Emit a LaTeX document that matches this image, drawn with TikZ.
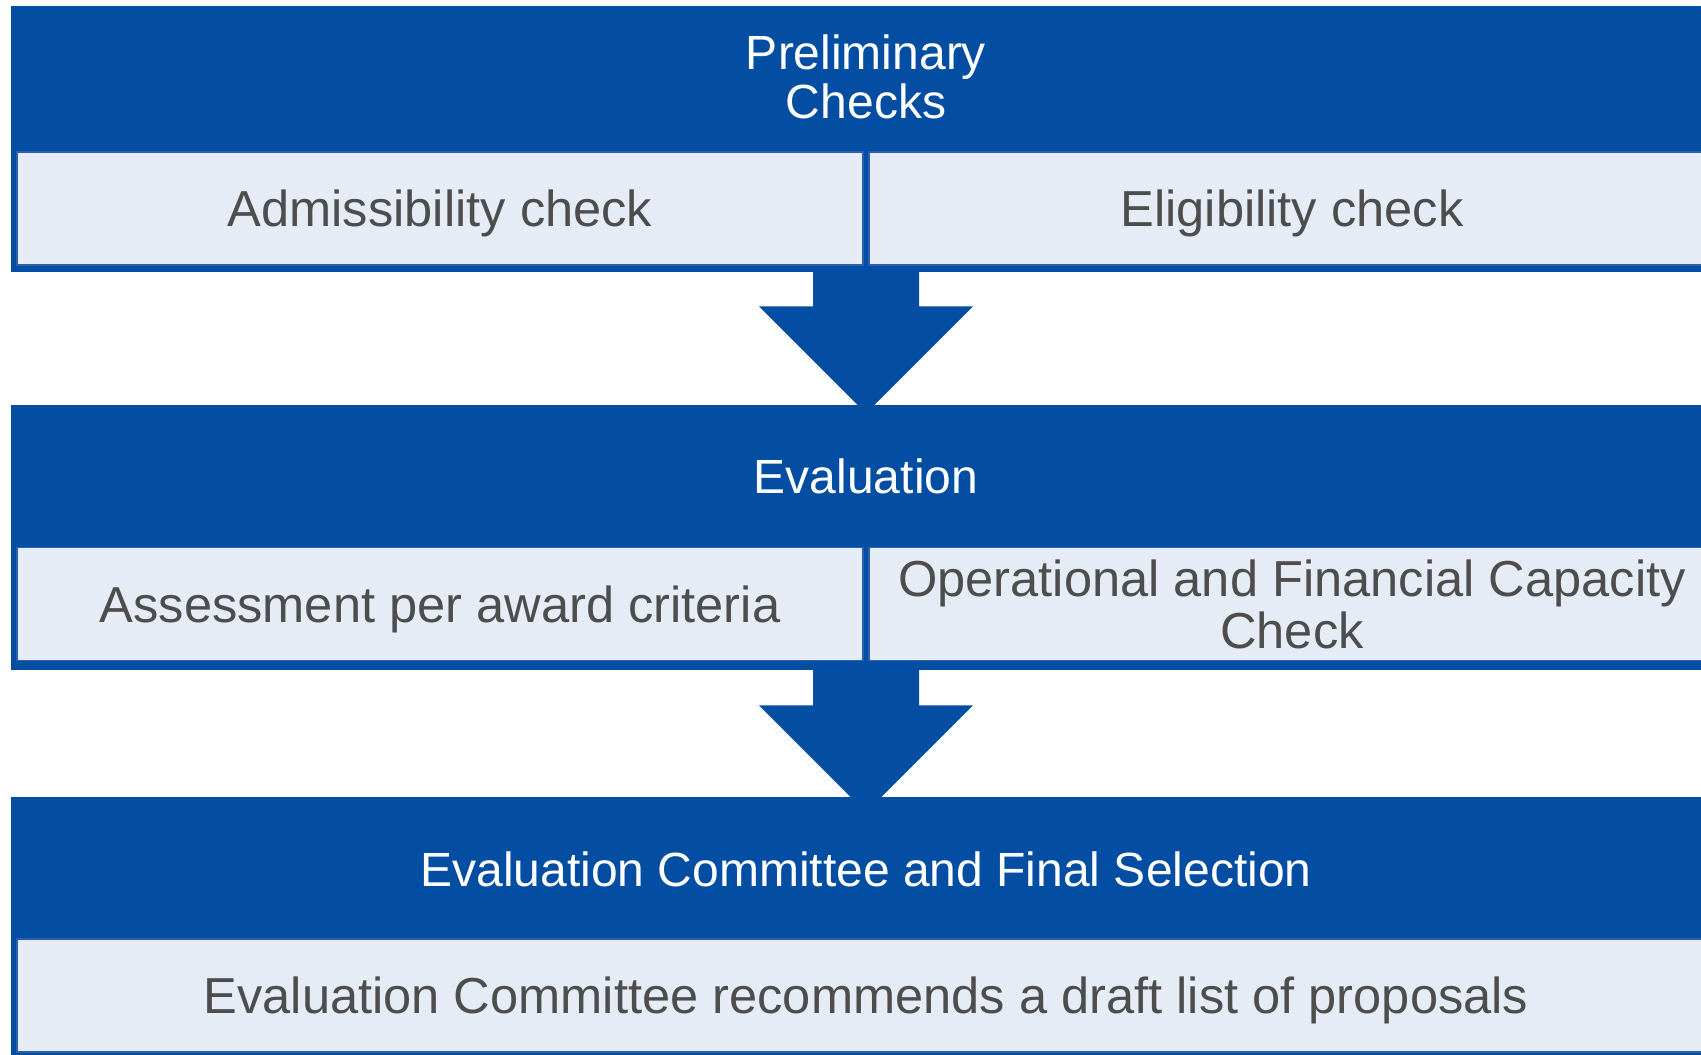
\documentclass[tikz,border=0pt]{standalone}
\usepackage{fontspec}
\setmainfont{Liberation Sans}
\definecolor{ecblue}{HTML}{034EA2}
\definecolor{cellfill}{HTML}{E6ECF5}
\definecolor{cellline}{HTML}{2B60AC}
\definecolor{txtgray}{HTML}{4D4D4D}
\begin{document}
\begin{tikzpicture}[x=0.5pt,y=-0.5pt,
  bandbox/.style={fill=ecblue, draw=none, inner sep=0, minimum width=855pt},
  titletext/.style={text=white, font=\fontsize{24}{24.5}\selectfont, align=center, inner sep=0},
  cell/.style={fill=cellfill, draw=cellline, line width=0.6pt, text=txtgray,
    font=\fontsize{25.3}{26}\selectfont, align=center, inner sep=0,
    minimum width=423pt, minimum height=56.5pt},
  oneline/.style={text depth=0pt},
  blockarrow/.style={fill=ecblue}]
\useasboundingbox (0,0) rectangle (1701,1054);
\clip (0,0) rectangle (1701,1054);
% bands
\node[bandbox, minimum height=133pt] (b1) at (866,139) {};
\node[bandbox, minimum height=132.5pt] (b2) at (866,537.5) {};
\node[bandbox, minimum height=131.5pt] (b3) at (866,928.5) {};
% block arrows (tips run into the next band)
\fill[blockarrow] (b1.south) ++(-53,-1) -- ++(0,35) -- ++(-54,0) -- ++(107,107) -- ++(107,-107) -- ++(-54,0) -- ++(0,-35) -- cycle;
\fill[blockarrow] (b2.south) ++(-53,-1) -- ++(0,36) -- ++(-54,0) -- ++(107,107) -- ++(107,-107) -- ++(-54,0) -- ++(0,-36) -- cycle;
% titles
\node[titletext] (t1) at (866,77) {Preliminary\\Checks};
\node[titletext] (t2) at (866,476) {Evaluation};
\node[titletext] (t3) at (866,869) {Evaluation Committee and Final Selection};
% cells
\node[cell, oneline] (c1l) at (440,208.5) {Admissibility check};
\node[cell, oneline] (c1r) at (1292,208.5) {Eligibility check};
\node[cell, oneline] (c2l) at (440,604) {Assessment per award criteria};
\node[cell] (c2r) at (1292,604) {Operational and Financial Capacity\\Check};
\node[cell, oneline, minimum width=849pt] (c3) at (866,995.5) {Evaluation Committee recommends a draft list of proposals};
\end{tikzpicture}
\end{document}
